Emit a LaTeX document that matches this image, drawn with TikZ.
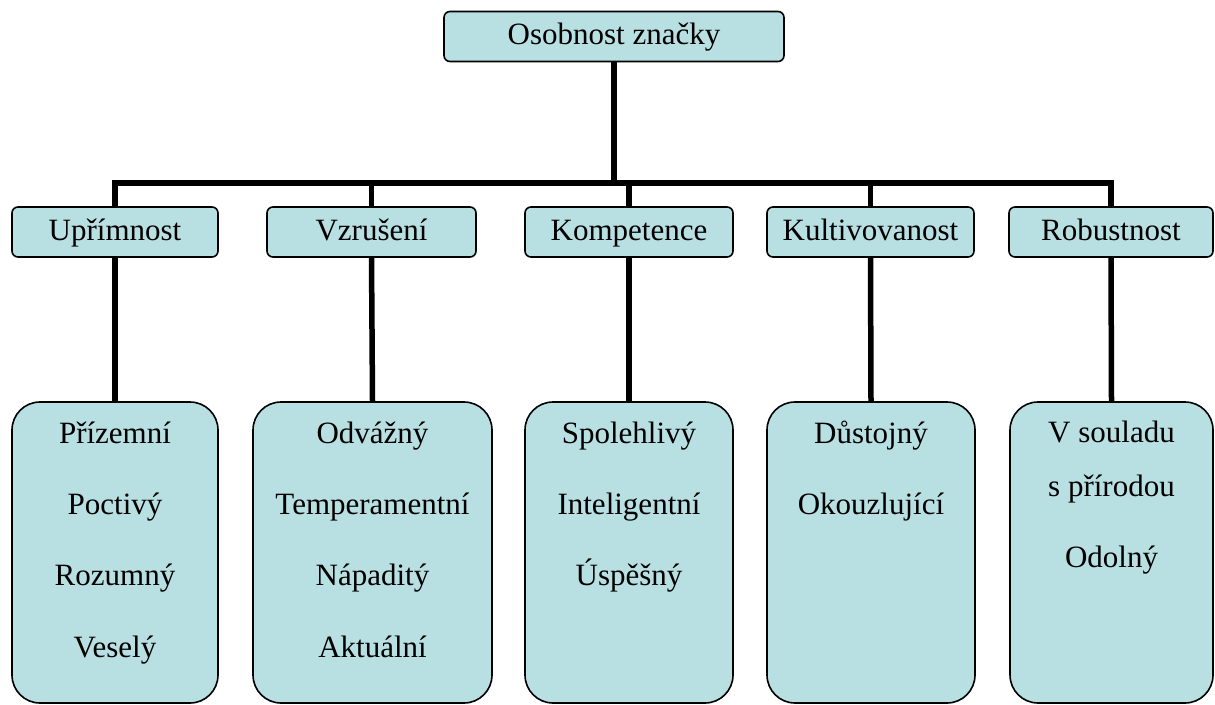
\documentclass[tikz,border=0pt]{standalone}
\usepackage{fontspec}
\setmainfont{Liberation Serif}
\definecolor{boxfill}{RGB}{184,223,226}

\begin{document}
\begin{tikzpicture}[x=1pt, y=-1pt,
    box/.style={draw=black, line width=1.6pt, fill=boxfill, rounded corners=6pt,
        inner sep=0pt, minimum height=50pt, text height=23pt, text depth=7pt,
        font=\fontsize{31}{37}\selectfont},
    listbox/.style={draw=black, line width=1.6pt, fill=boxfill, rounded corners=28pt,
        inner sep=0pt, minimum height=301pt},
    word/.style={anchor=base, inner sep=0pt, font=\fontsize{31}{37}\selectfont},
    link/.style={line width=5.5pt}]
    \useasboundingbox (0,0) rectangle (1215,704);

    % top box
    \node[box, minimum width=340pt] (brand) at (614, 36.5) {Osobnost značky};

    % middle row
    \node[box, minimum width=206pt] (upr)  at (115, 232)    {Upřímnost};
    \node[box, minimum width=209pt] (vzr)  at (371.5, 232)  {Vzrušení};
    \node[box, minimum width=208pt] (komp) at (629, 232)    {Kompetence};
    \node[box, minimum width=207pt] (kult) at (870.5, 232)  {Kultivovanost};
    \node[box, minimum width=204pt] (rob)  at (1111, 232)   {Robustnost};

    % bottom row
    \node[listbox, minimum width=206pt] (upr-list)  at (115, 552.5)    {};
    \node[listbox, minimum width=239pt] (vzr-list)  at (372.5, 552.5)  {};
    \node[listbox, minimum width=208pt] (komp-list) at (629, 552.5)    {};
    \node[listbox, minimum width=208pt] (kult-list) at (871, 552.5)    {};
    \node[listbox, minimum width=203pt] (rob-list)  at (1111.5, 552.5) {};

    % connectors
    \coordinate (split) at (614, 183);
    \draw[link] (brand.south) -- (split);
    \draw[link] (upr.north) -- (upr |- split) -- (rob |- split) -- (rob.north);
    \draw[link] (vzr |- split) -- (vzr.north);
    \draw[link] (komp |- split) -- (komp.north);
    \draw[link] (kult |- split) -- (kult.north);
    \draw[link] (upr.south) -- (upr-list.north);
    \draw[link] (vzr.south) -- (vzr-list.north);
    \draw[link] (komp.south) -- (komp-list.north);
    \draw[link] (kult.south) -- (kult-list.north);
    \draw[link] (rob.south) -- (rob-list.north);

    % words
    \node[word] (w1) at (115, 443) {Přízemní};
    \node[word] (w2) at (115, 514) {Poctivý};
    \node[word] (w3) at (115, 585) {Rozumný};
    \node[word] (w4) at (115, 657) {Veselý};

    \node[word] (w5) at (372.5, 443) {Odvážný};
    \node[word] (w6) at (372.5, 514) {Temperamentní};
    \node[word] (w7) at (372.5, 585) {Nápaditý};
    \node[word] (w8) at (372.5, 657) {Aktuální};

    \node[word] (w9)  at (629, 443) {Spolehlivý};
    \node[word] (w10) at (629, 514) {Inteligentní};
    \node[word] (w11) at (629, 585) {Úspěšný};

    \node[word] (w12) at (871, 443) {Důstojný};
    \node[word] (w13) at (871, 514) {Okouzlující};

    \node[word] (w14) at (1111.5, 442) {V souladu};
    \node[word] (w15) at (1111.5, 496) {s přírodou};
    \node[word] (w16) at (1111.5, 567) {Odolný};
\end{tikzpicture}
\end{document}
